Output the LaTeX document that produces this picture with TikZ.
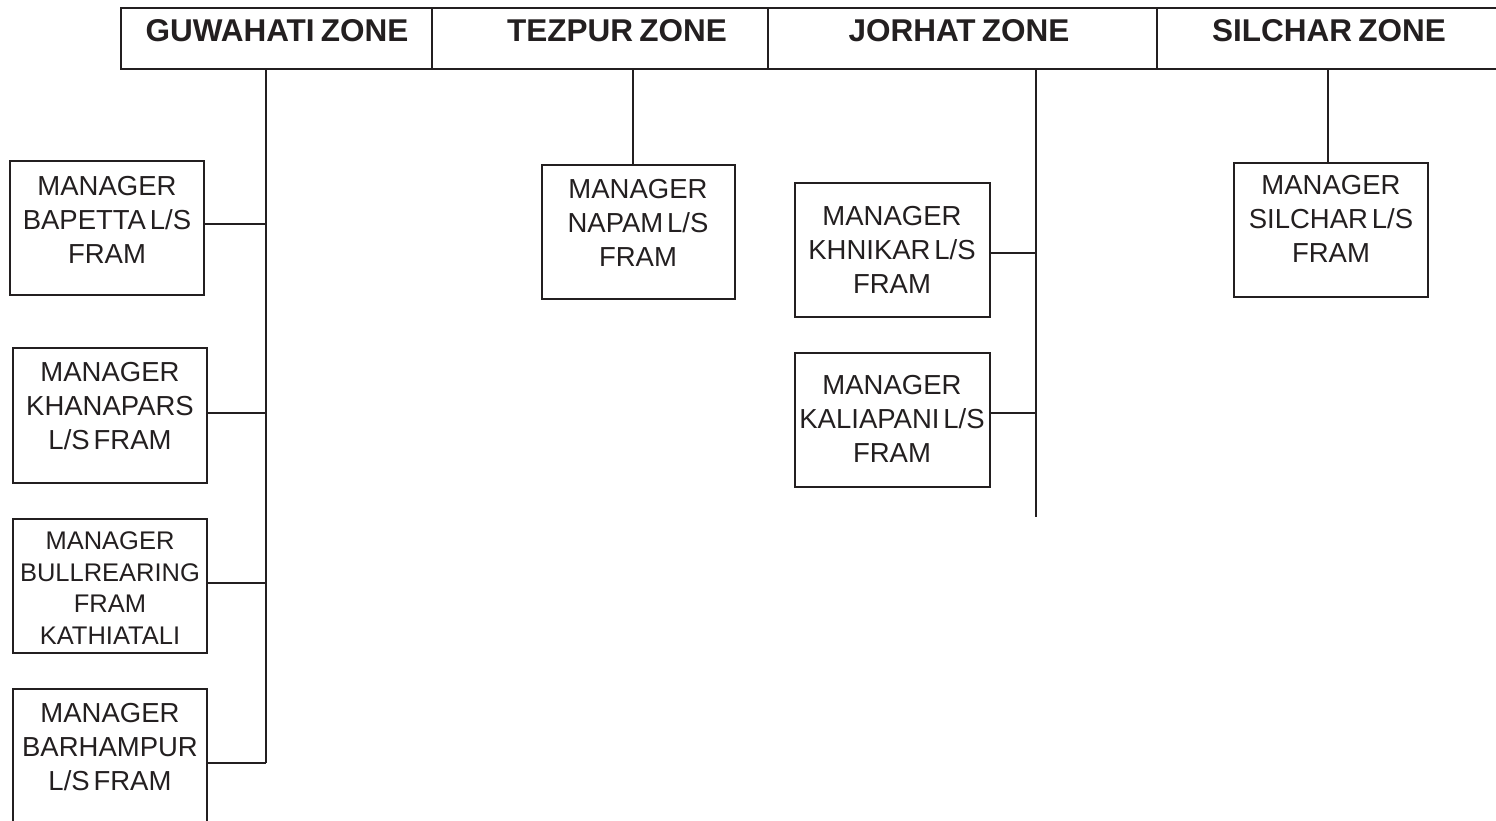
\documentclass[tikz,border=0pt]{standalone}
\usepackage{fontspec}
\setmainfont{Liberation Sans}
\definecolor{ink}{RGB}{35,31,32}
\begin{document}
\begin{tikzpicture}[x=1pt,y=-1pt,color=ink,line width=2.4pt,
  cell/.style={draw, minimum height=61pt, inner sep=0pt},
  box/.style={draw, minimum height=134pt, inner sep=0pt},
  head/.style={font=\fontsize{31.5}{37}\selectfont\bfseries, inner sep=0pt,
    execute at begin node={\spaceskip=0.2em\relax}},
  mgr/.style={align=center, font=\fontsize{27.5}{34}\selectfont, inner sep=0pt,
    execute at begin node={\spaceskip=0.14em\relax}},
  mgrsmall/.style={align=center, font=\fontsize{25.5}{31.7}\selectfont, inner sep=0pt},
  wire/.style={draw, line width=2.4pt}]
\useasboundingbox (0,0) rectangle (1496,820);

% header cells
\node[cell, minimum width=311pt] (gw) at (276.5,38.5) {};
\node[cell, minimum width=336pt] (tz) at (600,38.5) {};
\node[cell, minimum width=389pt] (jr) at (962.5,38.5) {};
\node[cell, minimum width=343pt] (sc) at (1328.5,38.5) {};
\node[head] (gwt) at (277,31) {GUWAHATI ZONE};
\node[head] (tzt) at (617,31) {TEZPUR ZONE};
\node[head] (jrt) at (959,31) {JORHAT ZONE};
\node[head] (sct) at (1329,31) {SILCHAR ZONE};

% manager boxes
\node[box, minimum width=194pt] (bapetta) at (107,228) {};
\node[box, minimum width=194pt, minimum height=135pt] (khanapars) at (109.7,415.5) {};
\node[box, minimum width=194pt] (bullrearing) at (109.7,586) {};
\node[box, minimum width=194pt, minimum height=141pt] (barhampur) at (109.7,759.5) {};
\node[box, minimum width=193pt] (napam) at (638.3,232) {};
\node[box, minimum width=195pt] (khnikar) at (892.5,250) {};
\node[box, minimum width=195pt] (kaliapani) at (892.5,420) {};
\node[box, minimum width=194pt] (silchar) at (1331,230) {};

\node[mgr] (bapettat) at (107,220) {MANAGER\\BAPETTA L/S\\FRAM};
\node[mgr] (khanaparst) at (110,406) {MANAGER\\KHANAPARS\\L/S FRAM};
\node[mgrsmall] (bullrearingt) at (110,588) {MANAGER\\BULLREARING\\FRAM\\KATHIATALI};
\node[mgr] (barhampurt) at (110,747) {MANAGER\\BARHAMPUR\\L/S FRAM};
\node[mgr] (napamt) at (638,223) {MANAGER\\NAPAM L/S\\FRAM};
\node[mgr] (khnikart) at (892,250) {MANAGER\\KHNIKAR L/S\\FRAM};
\node[mgr] (kaliapanit) at (892,419) {MANAGER\\KALIAPANI L/S\\FRAM};
\node[mgr] (silchart) at (1331,219) {MANAGER\\SILCHAR L/S\\FRAM};

% junction coordinates
\coordinate (gw1) at (266,224);
\coordinate (gw2) at (266,413);
\coordinate (gw3) at (266,583);
\coordinate (gwend) at (266,763);
\coordinate (tzj) at (633,165);
\coordinate (jr1) at (1036,253);
\coordinate (jr2) at (1036,413);
\coordinate (jrend) at (1036,517);
\coordinate (scj) at (1328,163);

% connectors
\draw[wire] (gw.south -| gwend) -- (gwend);
\draw[wire] (bapetta.east |- gw1) -- (gw1);
\draw[wire] (khanapars.east |- gw2) -- (gw2);
\draw[wire] (bullrearing.east |- gw3) -- (gw3);
\draw[wire] (barhampur.east |- gwend) -- (gwend);
\draw[wire] (tz.south -| tzj) -- (tzj);
\draw[wire] (jr.south -| jrend) -- (jrend);
\draw[wire] (khnikar.east |- jr1) -- (jr1);
\draw[wire] (kaliapani.east |- jr2) -- (jr2);
\draw[wire] (sc.south -| scj) -- (scj);
\end{tikzpicture}
\end{document}
